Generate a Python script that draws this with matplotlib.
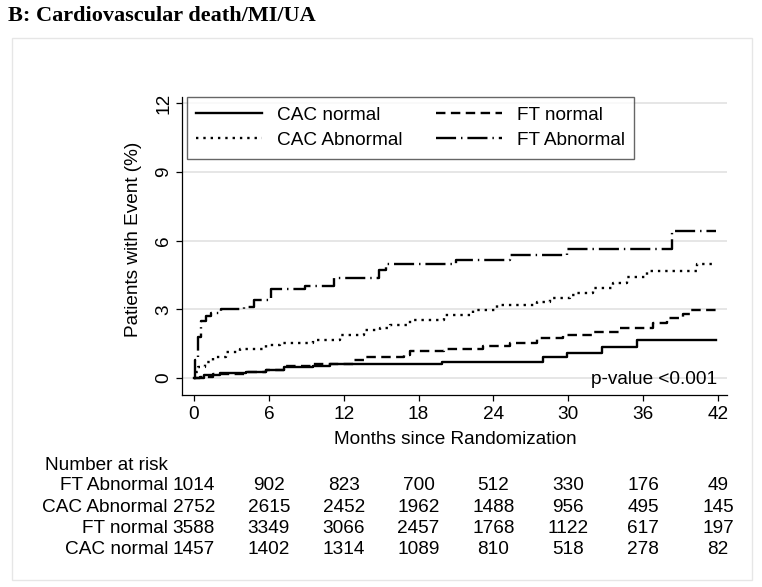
import numpy as np
import matplotlib
matplotlib.use("Agg")
import matplotlib.pyplot as plt
from matplotlib.patches import Rectangle
from matplotlib.transforms import blended_transform_factory

plt.rcParams['font.family'] = ['Liberation Sans', 'DejaVu Sans']

# Kaplan-Meier step curves (months, % with event)
cac_normal_t = [0, 0.8, 2.1, 4.2, 5.8, 7.2, 9.5, 10.9, 19.9, 28.0, 29.9, 32.7, 35.5, 41.8]
cac_normal_v = [0, 0.13, 0.2, 0.28, 0.35, 0.5, 0.54, 0.62, 0.72, 0.93, 1.1, 1.35, 1.66, 1.66]

cac_abn_t = [0, 0.15, 0.35, 0.9, 1.5, 2.6, 3.7, 5.8, 6.9, 9.5, 11.7, 13.6, 14.9, 15.7,
             17.3, 20.0, 22.4, 24.3, 27.5, 28.5, 30.1, 30.7, 32.0, 33.6, 34.7, 36.3, 40.3, 41.8]
cac_abn_v = [0, 0.25, 0.5, 0.71, 0.93, 1.15, 1.29, 1.44, 1.54, 1.66, 1.88, 2.1, 2.2, 2.31,
             2.53, 2.75, 2.97, 3.19, 3.3, 3.48, 3.62, 3.7, 3.91, 4.13, 4.42, 4.69, 5.0, 5.0]

ft_normal_t = [0, 0.5, 1.5, 4.2, 5.8, 7.2, 9.5, 12.0, 12.8, 13.8, 16.8, 17.3, 20.0, 23.2,
               25.3, 27.5, 29.6, 32.0, 34.1, 36.8, 37.9, 39.2, 39.8, 41.8]
ft_normal_v = [0, 0.06, 0.17, 0.28, 0.35, 0.54, 0.6, 0.62, 0.79, 0.93, 1.0, 1.18, 1.29, 1.4,
               1.51, 1.73, 1.88, 2.02, 2.17, 2.39, 2.6, 2.79, 2.97, 2.97]

ft_abn_t = [0, 0.1, 0.3, 0.6, 1.0, 1.4, 2.2, 4.0, 4.8, 6.2, 8.9, 11.2, 14.8, 15.4,
            21.0, 25.3, 29.9, 38.3, 41.8]
ft_abn_v = [0, 0.8, 1.8, 2.5, 2.7, 2.85, 3.0, 3.1, 3.4, 3.9, 4.0, 4.35, 4.7, 5.0,
            5.15, 5.37, 5.62, 6.4, 6.4]

# number at risk table
risk_times = [0, 6, 12, 18, 24, 30, 36, 42]
risk_labels = ['FT Abnormal', 'CAC Abnormal', 'FT normal', 'CAC normal']
risk_ft_abn = [1014, 902, 823, 700, 512, 330, 176, 49]
risk_cac_abn = [2752, 2615, 2452, 1962, 1488, 956, 495, 145]
risk_ft_normal = [3588, 3349, 3066, 2457, 1768, 1122, 617, 197]
risk_cac_normal = [1457, 1402, 1314, 1089, 810, 518, 278, 82]

W, H = 762, 587
fig = plt.figure(figsize=(W / 100, H / 100), dpi=100)
fs = 13.7

# light outer frame
fig.patches.append(Rectangle((12 / W, 1 - 580 / H), 740 / W, 542 / H,
                             transform=fig.transFigure, fill=False,
                             edgecolor='#e6e6e6', lw=1))

fig.text(8 / W, 1 - 16 / H, 'B: Cardiovascular death/MI/UA', family='Liberation Serif',
         weight='bold', fontsize=16, va='center', ha='left')

ax = fig.add_axes([182 / W, 1 - 395 / H, 545 / W, 298 / H])
ax.set_xlim(-0.96, 42.72)
ax.set_ylim(-0.74, 12.27)

for v in [0, 3, 6, 9, 12]:
    ax.axhline(v, color='#e4e4e4', lw=1.3, zorder=0)

lw = 1.7
l1, = ax.step(cac_normal_t, cac_normal_v, where='post', color='black', lw=lw,
              label='CAC normal')
l2, = ax.step(cac_abn_t, cac_abn_v, where='post', color='black', lw=lw,
              dashes=(1, 2.1), label='CAC Abnormal')
l3, = ax.step(ft_normal_t, ft_normal_v, where='post', color='black', lw=lw,
              dashes=(4, 2.3), label='FT normal')
l4, = ax.step(ft_abn_t, ft_abn_v, where='post', color='black', lw=lw,
              dashes=(8.5, 2.1, 0.6, 2.1), label='FT Abnormal')

leg = ax.legend(handles=[l1, l2, l3, l4], ncol=2, loc='upper left',
                bbox_to_anchor=(0.009, 1.0), borderaxespad=0, fontsize=fs,
                handlelength=3.45, handletextpad=0.8, columnspacing=1.75,
                labelspacing=0.42, borderpad=0.5, fancybox=False)
leg.get_frame().set_edgecolor('#404040')
leg.get_frame().set_linewidth(1.0)

ax.text(41.9, -0.08, 'p-value <0.001', ha='right', va='center', fontsize=fs)

for s in ['top', 'right']:
    ax.spines[s].set_visible(False)
for s in ['left', 'bottom']:
    ax.spines[s].set_linewidth(0.9)

ax.set_xticks(risk_times)
ax.set_yticks([0, 3, 6, 9, 12])
ax.tick_params(axis='both', direction='out', length=4.5, width=0.9, labelsize=fs)
ax.tick_params(axis='y', pad=2.5)
ax.tick_params(axis='x', pad=3.5)
for lab in ax.get_yticklabels():
    lab.set_rotation(90)
    lab.set_va('center')

fig.text(133 / W, 1 - 239 / H, 'Patients with Event (%)', rotation=90,
         ha='center', va='center', fontsize=fs)
fig.text(455 / W, 1 - 439 / H, 'Months since Randomization', ha='center',
         va='center', fontsize=fs)

# number at risk
tr = blended_transform_factory(ax.transData, fig.transFigure)
fig.text(45 / W, 1 - 465 / H, 'Number at risk', ha='left', va='center', fontsize=fs)
rows = [risk_ft_abn, risk_cac_abn, risk_ft_normal, risk_cac_normal]
for i, (name, vals) in enumerate(zip(risk_labels, rows)):
    y = 1 - (486 + i * 21.3) / H
    fig.text(168 / W, y, name, ha='right', va='center', fontsize=fs)
    for t, n in zip(risk_times, vals):
        ax.text(t, y, str(n), transform=tr, ha='center', va='center', fontsize=fs)

fig.savefig('out.png', dpi=100)
